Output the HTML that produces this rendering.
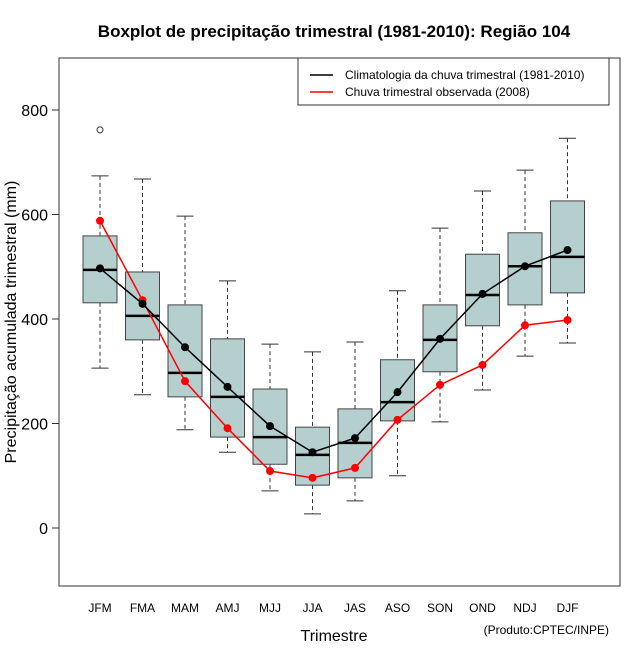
<!DOCTYPE html>
<html><head><meta charset="utf-8"><style>
body{margin:0;background:#fff;}
svg{display:block;font-family:"Liberation Sans","DejaVu Sans",sans-serif;}
</style></head><body>
<svg id="chart" width="640" height="660">
<text x="334" y="37" text-anchor="middle" font-size="17" font-weight="bold">Boxplot de precipitação trimestral (1981-2010): Região 104</text>
<rect x="59" y="58" width="561" height="528" fill="none" stroke="#333"/>
<text x="334" y="641" text-anchor="middle" font-size="16">Trimestre</text>
<text transform="translate(16,322) rotate(-90)" text-anchor="middle" font-size="16">Precipitação acumulada trimestral (mm)</text>
<text x="609" y="634" text-anchor="end" font-size="12">(Produto:CPTEC/INPE)</text>
<g id="axes"></g>
<g id="boxes"></g>
<g id="lines"></g>
<g>
<rect x="298" y="58" width="311" height="47" fill="#fff" stroke="#333"/>
<line x1="310" y1="75" x2="333" y2="75" stroke="#000" stroke-width="1.5"/>
<text x="345" y="79" font-size="12">Climatologia da chuva trimestral (1981-2010)</text>
<line x1="310" y1="92" x2="333" y2="92" stroke="red" stroke-width="1.5"/>
<text x="345" y="96" font-size="12">Chuva trimestral observada (2008)</text>
</g>
</svg>
<script>
const categories=["JFM","FMA","MAM","AMJ","MJJ","JJA","JAS","ASO","SON","OND","NDJ","DJF"];
const whiskerHigh=[674,668,597,473,352,337,356,454,574,645,685,746];
const q3=[559,490,427,362,266,193,228,322,427,524,565,626];
const medians=[494,406,297,251,174,140,163,241,360,446,501,519];
const q1=[431,360,251,174,122,82,96,205,299,387,427,450];
const whiskerLow=[306,255,188,145,71,27,52,100,203,264,329,354];
const climatology=[497,429,346,270,195,145,172,260,362,448,501,532];
const observed=[588,436,281,191,109,96,115,207,274,312,388,398];
const outliers=[[0,762]];
const yTicks=[0,200,400,600,800];
const NS="http://www.w3.org/2000/svg";
const X=i=>100+i*42.5;
const Y=v=>528-v*0.5225;
function mk(tag,attrs,parent){const e=document.createElementNS(NS,tag);for(const k in attrs)e.setAttribute(k,attrs[k]);parent.appendChild(e);return e;}
const axes=document.getElementById('axes'),boxes=document.getElementById('boxes'),lines=document.getElementById('lines');
mk('line',{x1:59,y1:Y(yTicks[0]),x2:59,y2:Y(yTicks[yTicks.length-1]),stroke:'#333'},axes);
yTicks.forEach(t=>{
 const l=mk('line',{x1:52,x2:59,y1:Y(t),y2:Y(t),stroke:'#333'},axes);
 
 
 const tx=mk('text',{x:48,y:Y(t)+6,'text-anchor':'end','font-size':16},axes);tx.textContent=t;
 
 
});
categories.forEach((c,i)=>{
 const tx=mk('text',{x:X(i),y:612,'text-anchor':'middle','font-size':12},axes);tx.textContent=c;
 
 
 const g=mk('g',{},boxes);
 
 
 const x=X(i);
 mk('line',{x1:x,x2:x,y1:Y(whiskerHigh[i]),y2:Y(q3[i]),stroke:'#333','stroke-dasharray':'4,3'},g);
 mk('line',{x1:x,x2:x,y1:Y(q1[i]),y2:Y(whiskerLow[i]),stroke:'#333','stroke-dasharray':'4,3'},g);
 mk('line',{x1:x-8.5,x2:x+8.5,y1:Y(whiskerHigh[i]),y2:Y(whiskerHigh[i]),stroke:'#333'},g);
 mk('line',{x1:x-8.5,x2:x+8.5,y1:Y(whiskerLow[i]),y2:Y(whiskerLow[i]),stroke:'#333'},g);
 mk('rect',{x:x-17,y:Y(q3[i]),width:34,height:Y(q1[i])-Y(q3[i]),fill:'#b5cfcf',stroke:'#444'},g);
 mk('line',{x1:x-17,x2:x+17,y1:Y(medians[i]),y2:Y(medians[i]),stroke:'#000','stroke-width':2.5},g);
});
outliers.forEach(o=>{const c=mk('circle',{cx:X(o[0]),cy:Y(o[1]),r:3,fill:'none',stroke:'#333'},boxes);
 
 });
function series(vals,color,name){
 const p=mk('polyline',{points:vals.map((v,i)=>X(i)+','+Y(v)).join(' '),fill:'none',stroke:color,'stroke-width':1.5},lines);
 
 
 vals.forEach((v,i)=>{const c=mk('circle',{cx:X(i),cy:Y(v),r:4,fill:color},lines);
  
  });
}
series(observed,'red','observed');
series(climatology,'#000','climatology');
</script>
</body></html>
